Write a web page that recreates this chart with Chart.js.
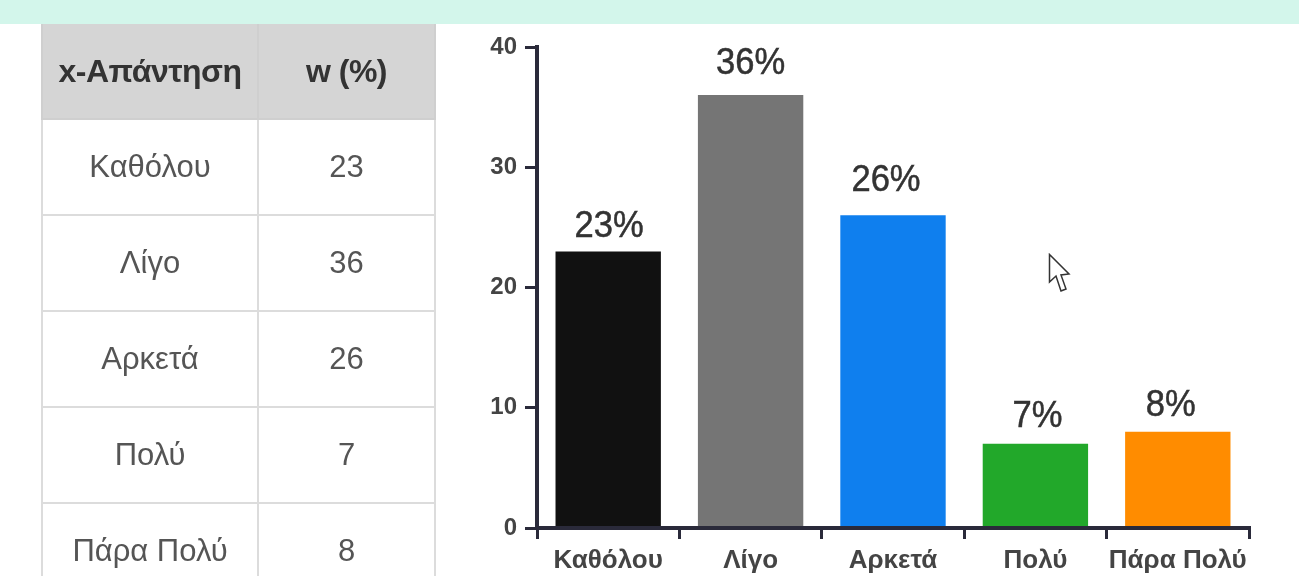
<!DOCTYPE html>
<html lang="el">
<head>
<meta charset="utf-8">
<title>Απαντήσεις</title>
<script src="https://cdn.jsdelivr.net/npm/chart.js@4"></script>
<style>
  html, body { margin: 0; padding: 0; background: #fff; }
  body { position: relative; width: 1299px; height: 576px; overflow: hidden; font-family: "Liberation Sans", Arial, sans-serif; }
  .banner { position: absolute; left: 0; top: 0; width: 1299px; height: 24px; background: #d3f6eb; }
  table { position: absolute; left: 41px; top: 24px; width: 395px; border-collapse: collapse; table-layout: fixed; filter: blur(0.5px); }
  th, td { border: 2px solid #dcdcdc; text-align: center; padding: 0; }
  th { height: 94px; background: #d5d5d5; border-color: #cfcfcf; border-top: none; color: #333; font-size: 32px; font-weight: bold; letter-spacing: -0.5px; }
  td { height: 94px; color: #555; font-size: 31px; }
  th:first-child, td:first-child { width: 214px; }
  canvas { position: absolute; left: 0; top: 0; filter: blur(0.5px); }
  .cursor { position: absolute; left: 1048px; top: 253px; }
</style>
</head>
<body>
<div class="banner"></div>
<table id="dataTable"></table>
<canvas id="chart" width="1299" height="576"></canvas>
<svg class="cursor" width="24" height="42" viewBox="0 0 24 42">
  <path d="M1.5 1.5 V29 L8 23 L13 38 L18 36 L13 22 L21 21 Z" fill="#fff" stroke="#333" stroke-width="1.5"/>
</svg>
<script>
const TABLE_HEAD = ["x-Απάντηση", "w (%)"];
const categories = ["Καθόλου", "Λίγο", "Αρκετά", "Πολύ", "Πάρα Πολύ"];
const wValues = [23, 36, 26, 7, 8];
const barColors = ["#111111", "#757575", "#0f7fee", "#22a82a", "#ff8c00"];
const labelGaps = [14, 21, 24, 17, 16]; // px between bar top and its percent label
const labelNudges = [1, 0, -7, 2, -7]; // the labels aren't quite centred on their bars
const AXIS_COLOR = "#2a2a3a";
const TICK_FONT = { family: "'Liberation Sans', sans-serif", weight: "bold" };

function buildTable() {
  const table = document.getElementById("dataTable");
  const head = TABLE_HEAD.map((h) => `<th>${h}</th>`).join("");
  const rows = categories.map((c, i) => `<tr><td>${c}</td><td>${wValues[i]}</td></tr>`).join("");
  table.innerHTML = `<tr>${head}</tr>${rows}`;
}

// Percent labels sit above each bar, squeezed a little like the original
const barLabelPlugin = {
  id: "barLabel",
  afterDatasetsDraw(chart) {
    const { ctx } = chart;
    chart.getDatasetMeta(0).data.forEach((bar, i) => {
      ctx.save();
      ctx.translate(bar.x + labelNudges[i], bar.y - labelGaps[i]);
      ctx.scale(0.96, 1);
      ctx.font = "36px 'Liberation Sans', sans-serif";
      ctx.fillStyle = "#333";
      ctx.strokeStyle = "#333";
      ctx.lineWidth = 0.5;
      ctx.textAlign = "center";
      ctx.textBaseline = "alphabetic";
      ctx.fillText(`${wValues[i]}%`, 0, 0);
      ctx.strokeText(`${wValues[i]}%`, 0, 0);
      ctx.restore();
    });
  },
};

buildTable();

new Chart(document.getElementById("chart"), {
  type: "bar",
  data: {
    labels: categories,
    datasets: [{
      data: wValues,
      backgroundColor: barColors,
      barPercentage: 0.74,
      categoryPercentage: 1,
    }],
  },
  options: {
    responsive: false,
    animation: false,
    layout: { padding: { top: 47, right: 50, left: 0, bottom: 0 } },
    plugins: { legend: { display: false }, tooltip: { enabled: false } },
    scales: {
      x: {
        afterFit(scale) { scale.height = 48; },
        grid: { drawOnChartArea: false, color: AXIS_COLOR, tickLength: 11, lineWidth: 3 },
        border: { color: AXIS_COLOR, width: 4, z: 1 },
        ticks: { color: "#444", font: { ...TICK_FONT, size: 26 }, padding: 6, maxRotation: 0, autoSkip: false },
      },
      y: {
        min: 0,
        max: 40,
        afterFit(scale) { scale.width = 537; },
        grid: { drawOnChartArea: false, color: AXIS_COLOR, tickLength: 12, lineWidth: 3 },
        border: { color: AXIS_COLOR, width: 4, z: 1 },
        ticks: { stepSize: 10, color: "#444", font: { ...TICK_FONT, size: 24 }, padding: 8 },
      },
    },
  },
  plugins: [barLabelPlugin],
});
</script>
</body>
</html>
